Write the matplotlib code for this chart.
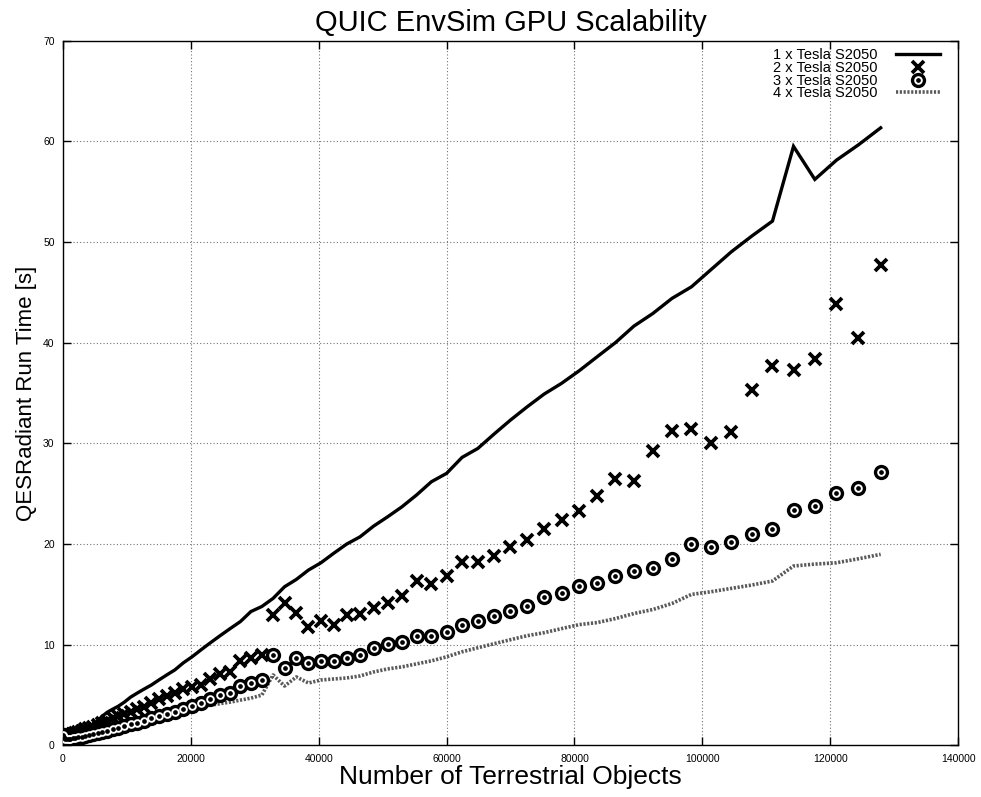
import matplotlib
matplotlib.use("Agg")
import matplotlib.pyplot as plt
from matplotlib.legend_handler import HandlerTuple

# ---- data ----
objects = [24, 96, 216, 384, 600, 864, 1176, 1536, 1944, 2400,
           2904, 3456, 4056, 4704, 5400, 6144, 6936, 7776, 8664, 9600,
           10584, 11616, 12696, 13824, 15000, 16224, 17496, 18816, 20184, 21600,
           23064, 24576, 26136, 27744, 29400, 31104, 32856, 34656, 36504, 38400,
           40344, 42336, 44376, 46464, 48600, 50784, 53016, 55296, 57624, 60000,
           62424, 64896, 67416, 69984, 72600, 75264, 77976, 80736, 83544, 86400,
           89304, 92256, 95256, 98304, 101400, 104544, 107736, 110976, 114264, 117600,
           120984, 124416, 127896]

gpu1 = [0.3, 0.3, 0.3, 0.35, 0.42, 0.5, 0.62, 0.75, 0.9, 1.1,
        1.3, 1.5, 1.7, 2.0, 2.4, 2.9, 3.3, 3.6, 3.9, 4.3,
        4.8, 5.2, 5.6, 6.0, 6.5, 7.0, 7.5, 8.2, 8.8, 9.5,
        10.2, 10.9, 11.6, 12.3, 13.3, 13.8, 14.6, 15.76, 16.49, 17.42,
        18.14, 19.08, 20.0, 20.72, 21.79, 22.71, 23.7, 24.87, 26.19, 27.02,
        28.61, 29.5, 30.92, 32.31, 33.63, 34.9, 35.96, 37.21, 38.6, 40.0,
        41.65, 42.9, 44.4, 45.55, 47.28, 49.03, 50.59, 52.08, 59.5, 56.22,
        58.13, 59.65, 61.34]

gpu2 = [1.1, 1.0, 0.9, 0.9, 0.9, 1.0, 1.0, 1.1, 1.2, 1.3,
        1.4, 1.6, 1.7, 1.8, 2.0, 2.2, 2.4, 2.7, 2.9, 3.1,
        3.3, 3.6, 3.85, 4.2, 4.6, 4.9, 5.2, 5.6, 5.8, 6.0,
        6.6, 7.1, 7.3, 8.4, 8.7, 9.0, 12.92, 14.17, 13.12, 11.79,
        12.38, 11.96, 12.95, 13.05, 13.61, 14.11, 14.87, 16.3, 16.03, 16.82,
        18.24, 18.24, 18.84, 19.73, 20.4, 21.5, 22.38, 23.31, 24.77, 26.42,
        26.26, 29.24, 31.22, 31.42, 30.0, 31.12, 35.3, 37.71, 37.25, 38.34,
        43.8, 40.49, 47.7]

gpu3 = [1.0, 0.8, 0.7, 0.6, 0.6, 0.6, 0.65, 0.7, 0.75, 0.8,
        0.85, 0.95, 1.05, 1.15, 1.25, 1.35, 1.45, 1.6, 1.75, 1.9,
        2.1, 2.25, 2.45, 2.7, 2.9, 3.15, 3.35, 3.65, 3.9, 4.2,
        4.6, 5.0, 5.2, 5.9, 6.2, 6.5, 8.98, 7.65, 8.65, 8.21,
        8.41, 8.38, 8.65, 8.98, 9.64, 10.07, 10.24, 10.9, 10.9, 11.29,
        11.96, 12.38, 12.85, 13.35, 13.87, 14.75, 15.1, 15.86, 16.1, 16.82,
        17.29, 17.65, 18.48, 20.0, 19.67, 20.23, 20.99, 21.46, 23.35, 23.77,
        25.03, 25.56, 27.15]

gpu4 = [0.5, 0.5, 0.5, 0.5, 0.55, 0.55, 0.6, 0.65, 0.7, 0.75,
        0.8, 0.85, 0.9, 1.0, 1.1, 1.2, 1.3, 1.4, 1.55, 1.7,
        1.85, 2.0, 2.2, 2.4, 2.6, 2.9, 3.3, 3.55, 3.7, 3.85,
        4.0, 4.15, 4.3, 4.5, 4.7, 5.0, 7.0, 5.9, 6.8, 6.2,
        6.5, 6.6, 6.7, 6.9, 7.3, 7.6, 7.8, 8.1, 8.4, 8.8,
        9.3, 9.7, 10.1, 10.5, 10.9, 11.2, 11.6, 12.0, 12.2, 12.6,
        13.1, 13.5, 14.1, 15.0, 15.27, 15.6, 15.93, 16.33, 17.82, 18.01,
        18.14, 18.54, 18.98]

labels = ["1 x Tesla S2050", "2 x Tesla S2050", "3 x Tesla S2050", "4 x Tesla S2050"]
title = "QUIC EnvSim GPU Scalability"
xlabel = "Number of Terrestrial Objects"
ylabel = "QESRadiant Run Time [s]"
xticks = [0, 20000, 40000, 60000, 80000, 100000, 120000, 140000]
yticks = [0, 10, 20, 30, 40, 50, 60, 70]

# ---- plot ----
plt.rcParams['font.family'] = ['Liberation Sans', 'DejaVu Sans']
fig = plt.figure(figsize=(9.81, 7.97), dpi=100)
ax = fig.add_axes([0.0642, 0.0647, 0.9124, 0.8843])

h1, = ax.plot(objects, gpu1, color='black', lw=2.4, solid_joinstyle='miter', zorder=4)
h2, = ax.plot(objects, gpu2, ls='none', marker='x', ms=8.5, mew=2.7, color='black', zorder=5)
c_outer, = ax.plot(objects, gpu3, ls='none', marker='o', ms=11, mfc='black', mec='black', mew=0, zorder=5)
c_mid, = ax.plot(objects, gpu3, ls='none', marker='o', ms=6.2, mfc='white', mec='white', mew=0, zorder=6)
c_inner, = ax.plot(objects, gpu3, ls='none', marker='o', ms=3.4, mfc='black', mec='black', mew=0, zorder=7)
h4, = ax.plot(objects, gpu4, color='0.35', lw=2.6, ls=(0, (0.6, 0.45)), zorder=3)

ax.set_xlim(0, 140000)
ax.set_ylim(0, 70)
ax.set_xticks(xticks)
ax.set_yticks(yticks)
ax.set_xticklabels([str(v) for v in xticks])
ax.set_yticklabels([str(v) for v in yticks])
ax.tick_params(direction='in', top=True, right=True, length=6, width=1,
               labelsize=7.5, pad=6)
ax.grid(True, color='0.45', ls=(0, (1, 2)), lw=0.8)
ax.set_axisbelow(True)
for s in ax.spines.values():
    s.set_linewidth(1.0)

ax.set_title(title, fontsize=21, pad=7)
ax.set_xlabel(xlabel, fontsize=19, labelpad=1)
ax.set_ylabel(ylabel, fontsize=16, labelpad=4)

leg = ax.legend([h1, h2, (c_outer, c_mid, c_inner), h4], labels,
                handler_map={tuple: HandlerTuple(ndivide=1, pad=0)},
                loc='upper right', bbox_to_anchor=(0.988, 1.0),
                frameon=False, markerfirst=False, fontsize=10.5,
                labelspacing=-0.08, handlelength=3.0, handletextpad=1.3,
                borderaxespad=0.1, numpoints=1)

fig.savefig("out.png", dpi=100)
